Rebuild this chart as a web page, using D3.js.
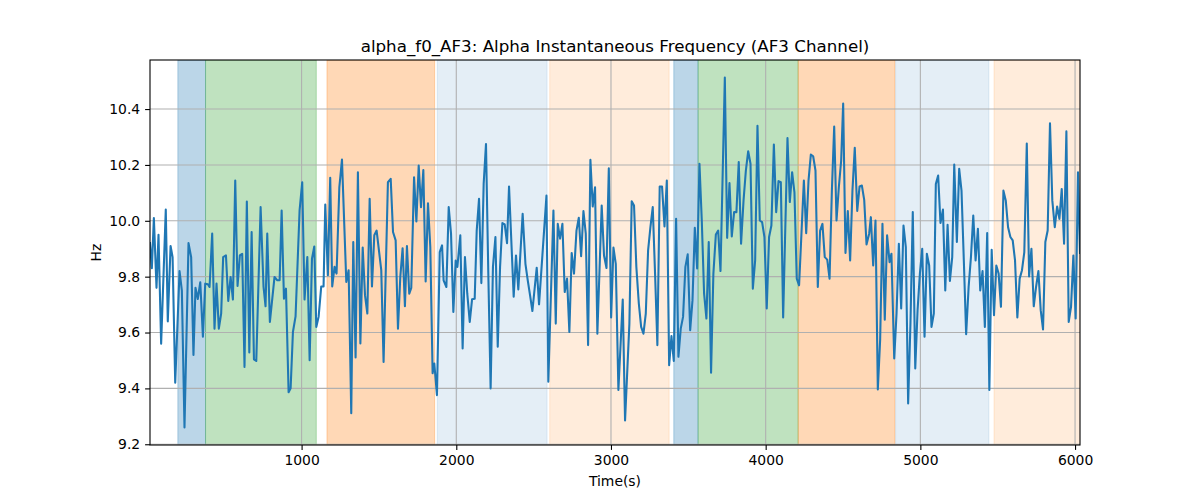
<!DOCTYPE html>
<html><head><meta charset="utf-8">
<script src="https://cdn.jsdelivr.net/npm/d3@7"></script>
<style>body{margin:0;background:#fff}svg{display:block}text{font-family:"DejaVu Sans",sans-serif}</style>
</head><body>
<svg id="chart" width="1200" height="500"></svg>
<script>
const title = "alpha_f0_AF3: Alpha Instantaneous Frequency (AF3 Channel)";
const xLabel = "Time(s)";
const yLabel = "Hz";
const xTicks = [1000, 2000, 3000, 4000, 5000, 6000];
const yTicks = [9.2, 9.4, 9.6, 9.8, 10.0, 10.2, 10.4];

// segments: start time, end time, state
const segStart = [200, 379, 1164, 1877, 2604, 3406, 3563, 4210, 4840, 5476];
const segEnd   = [379, 1095, 1860, 2587, 3376, 3563, 4210, 4835, 5443, 6040];
const segState = ["S1", "S2", "S3", "S4", "S5", "S1", "S2", "S3", "S4", "S5"];

// [time (s), frequency (Hz)]
const samples = [
[20,9.92],[32,9.83],[45,10.01],[62,9.76],[75,9.95],[92,9.56],[122,10.04],[135,9.64],[153,9.91],[166,9.87],[183,9.42],[211,9.82],[226,9.75],[243,9.26],[269,9.92],[286,9.87],[301,9.52],[314,9.76],[329,9.72],[345,9.78],[362,9.585],[377,9.775],[394,9.773],[405,9.763],[422,9.954],[437,9.614],[450,9.775],[465,9.614],[480,9.668],[493,9.87],[511,9.876],[526,9.713],[541,9.799],[556,9.718],[571,10.144],[586,9.767],[601,9.876],[616,9.882],[631,9.477],[646,10.069],[662,9.529],[677,9.96],[692,9.504],[707,9.498],[735,10.049],[754,9.763],[767,9.694],
[778,9.954],[795,9.638],[825,9.799],[843,9.787],[858,9.787],[871,10.037],[886,9.721],[899,9.757],[916,9.386],[929,9.4],[944,9.602],[961,9.658],[987,10.037],[1004,10.138],[1019,9.718],[1037,9.87],[1052,9.501],[1067,9.864],[1082,9.908],[1095,9.62],[1110,9.656],[1127,9.765],[1142,9.765],[1153,10.058],[1170,9.805],[1185,10.154],[1198,9.765],[1213,9.835],[1226,9.811],[1244,10.12],[1261,10.219],[1289,9.781],[1304,9.823],[1321,9.311],[1334,9.924],[1349,9.511],[1364,10.174],[1380,9.561],[1395,9.904],[1410,9.733],[1425,9.668],[1440,10.079],[1455,9.765],[1470,9.948],[1485,9.965],[1500,9.894],[1515,9.823],[1530,9.495],
[1558,10.138],[1576,10.15],[1591,9.96],[1608,9.93],[1623,9.614],[1638,9.799],[1653,9.902],[1668,9.694],[1681,9.91],[1696,9.739],[1709,9.76],[1727,10.156],[1742,9.998],[1757,10.198],[1772,10.049],[1787,10.182],[1802,9.783],[1817,10.063],[1832,9.906],[1847,9.454],[1858,9.489],[1875,9.376],[1893,9.888],[1908,9.912],[1918,9.787],[1936,9.763],[1951,10.049],[1966,9.954],[1981,9.674],[1996,9.858],[2007,9.835],[2026,9.948],[2041,9.543],[2056,9.87],[2071,9.739],[2087,9.638],[2102,9.719],[2119,9.721],[2132,9.965],[2147,10.079],[2162,9.777],[2177,10.132],[2192,10.275],[2207,9.811],[2222,9.4],[2237,9.835],[2253,9.942],[2268,9.549],[2283,9.835],[2298,9.992],[2313,9.987],[2328,9.92],
[2341,10.123],[2371,9.728],[2386,9.876],[2401,9.754],[2429,10.025],[2447,9.846],[2462,9.787],[2477,9.733],[2492,9.677],[2520,9.832],[2535,9.701],[2583,10.09],[2595,9.424],[2628,10.037],[2643,9.632],[2656,9.989],[2671,9.936],[2686,9.989],[2701,9.745],[2716,9.793],[2731,9.602],[2746,9.885],[2761,9.811],[2777,9.965],[2792,10.011],[2807,9.873],[2822,10.035],[2837,9.954],[2852,9.555],[2867,10.218],[2882,10.051],[2897,10.12],[2912,9.596],[2940,10.055],[2955,9.876],[2971,9.831],[2986,10.188],[3001,9.654],[3016,9.904],[3031,9.846],[3048,9.394],[3076,9.718],
[3091,9.285],[3119,9.632],[3134,10.07],[3149,10.055],[3164,9.835],[3180,9.704],[3195,9.62],[3210,9.596],[3225,9.668],[3240,9.894],[3255,9.977],[3270,10.049],[3285,9.811],[3300,9.555],[3315,10.123],[3330,10.123],[3346,9.98],[3361,10.144],[3376,9.483],[3391,9.587],[3406,9.498],[3421,10.007],[3436,9.513],[3451,9.614],[3466,9.656],[3481,9.835],[3496,9.88],[3512,9.608],[3527,9.716],[3542,9.975],[3557,9.829],[3572,10.204],[3587,10.001],[3602,9.739],[3617,9.65],[3632,9.924],[3647,9.456],[3662,9.811],[3678,9.951],[3693,9.965],[3708,9.82],[3736,10.513],[3751,9.939],[3766,10.135],[3781,9.944],[3796,10.031],[3811,10.031],[3826,10.21],[3841,9.918],[3857,10.073],[3872,10.18],[3887,10.249],
[3902,10.204],[3917,9.757],[3932,9.858],[3947,10.34],[3962,10.001],[3977,9.995],[3992,9.942],[4007,9.686],[4022,9.942],[4037,9.983],[4053,10.273],[4068,10.031],[4083,10.142],[4098,10.138],[4113,9.654],[4141,10.296],[4156,10.067],[4171,10.174],[4186,10.102],[4201,9.793],[4216,9.769],[4247,10.144],[4262,9.956],[4277,10.144],[4292,10.237],[4307,10.231],[4322,10.18],[4337,9.763],[4352,9.965],[4367,9.989],[4382,9.87],[4398,9.861],[4413,9.793],[4428,10.108],[4443,10.337],[4458,10.001],[4473,10.12],[4488,10.215],[4501,10.42],[4516,9.885],[4531,10.035],[4546,9.858],[4561,10.108],[4576,10.261],[4592,10.035],[4607,10.123],[4622,10.126],[4637,10.075],[4652,9.915],
[4669,9.954],[4680,10.013],[4695,9.84],[4710,10.001],[4725,9.396],[4740,9.573],[4755,9.989],[4770,9.646],[4785,9.948],[4801,9.852],[4813,9.882],[4831,9.507],[4846,9.668],[4861,9.918],[4876,9.686],[4891,9.983],[4906,9.906],[4921,9.346],[4936,9.632],[4951,10.031],[4967,9.471],[4982,9.68],[4997,9.811],[5012,9.9],[5027,9.585],[5042,9.882],[5057,9.84],[5072,9.62],[5087,9.668],[5100,10.132],[5115,10.162],[5130,9.992],[5146,10.04],[5161,9.751],[5176,9.986],[5191,9.785],[5206,9.87],[5219,10.201],[5236,9.924],[5251,10.186],[5266,10.108],[5281,9.858],[5296,9.594],[5312,9.763],[5327,9.87],[5342,10.019],[5357,9.858],[5372,9.971],[5387,9.751],[5402,9.82],[5417,9.62],[5432,9.956],[5446,9.394],
[5461,9.896],[5476,9.662],[5491,9.84],[5506,9.811],[5521,9.692],[5537,10.108],[5552,10.073],[5567,9.977],[5582,9.942],[5597,9.93],[5612,9.858],[5627,9.654],[5642,9.793],[5657,9.823],[5672,9.888],[5688,10.277],[5703,9.801],[5718,9.9],[5733,9.694],[5748,9.763],[5763,9.82],[5778,9.68],[5793,9.611],[5808,9.924],[5823,9.965],[5838,10.349],[5853,10.073],[5869,9.977],[5884,10.051],[5899,10.007],[5914,10.114],[5929,9.918],[5944,10.32],[5959,9.638],[5974,9.692],[5989,9.876],[6004,9.65],[6019,10.174],[6032,9.885]
];

const W = 1200, H = 500;
const m = {left:150, right:1080, top:60, bottom:445};
const svg = d3.select("#chart");

const x = d3.scaleLinear().domain(d3.extent(samples, d => d[0])).range([m.left, m.right]);
const yMin = d3.min(samples, d => d[1]), yMax = d3.max(samples, d => d[1]);
const pad = (yMax - yMin) * 0.05;
const y = d3.scaleLinear().domain([yMin - pad, yMax + pad]).range([m.bottom, m.top]);

const stateColor = d3.scaleOrdinal().domain(["S1","S2","S3","S4","S5"])
  .range(["#1f77b4","#2ca02c","#ff7f0e","#1f77b4","#ff7f0e"]);
const stateAlpha = d3.scaleOrdinal().domain(["S1","S2","S3","S4","S5"])
  .range([0.3, 0.3, 0.3, 0.12, 0.15]);

svg.append("defs").append("clipPath").attr("id","clip")
  .append("rect").attr("x", m.left).attr("y", m.top)
  .attr("width", m.right - m.left).attr("height", m.bottom - m.top);

const plot = svg.append("g").attr("clip-path","url(#clip)");

// spans
plot.append("g").selectAll("rect").data(segStart.map((s,i)=>({s, e:segEnd[i], st:segState[i]})))
  .join("rect")
  .attr("x", d => x(d.s)).attr("width", d => x(d.e) - x(d.s))
  .attr("y", m.top).attr("height", m.bottom - m.top)
  .attr("fill", d => stateColor(d.st)).attr("fill-opacity", d => stateAlpha(d.st))
  .attr("stroke", d => stateColor(d.st)).attr("stroke-opacity", d => stateAlpha(d.st))
  .attr("stroke-width", 1);

// grid
const grid = plot.append("g").attr("stroke","#b0b0b0").attr("stroke-width",1.1);
grid.selectAll(".gx").data(xTicks).join("line")
  .attr("x1", d => x(d)).attr("x2", d => x(d)).attr("y1", m.top).attr("y2", m.bottom);
grid.selectAll(".gy").data(yTicks).join("line")
  .attr("y1", d => y(d)).attr("y2", d => y(d)).attr("x1", m.left).attr("x2", m.right);

// line
plot.append("path").datum(samples)
  .attr("fill","none").attr("stroke","#1f77b4").attr("stroke-width",2.08)
  .attr("stroke-linejoin","round").attr("stroke-linecap","square")
  .attr("d", d3.line().x(d => x(d[0])).y(d => y(d[1])));

// axes
const fs = "13.9px";
const xAxis = svg.append("g").attr("transform", `translate(0,${m.bottom})`)
  .call(d3.axisBottom(x).tickValues(xTicks).tickFormat(d3.format("d")).tickSizeOuter(0).tickSize(4.9).tickPadding(4.9));
const yAxis = svg.append("g").attr("transform", `translate(${m.left},0)`)
  .call(d3.axisLeft(y).tickValues(yTicks).tickFormat(d3.format(".1f")).tickSizeOuter(0).tickSize(4.9).tickPadding(4.9));
[xAxis, yAxis].forEach(a => {
  a.select(".domain").remove();
  a.selectAll(".tick line").attr("stroke","#000").attr("stroke-width",1.1);
  a.selectAll(".tick text").attr("fill","#000").style("font-size", fs).style("font-family","DejaVu Sans");
});

// spines
svg.append("rect").attr("x", m.left).attr("y", m.top)
  .attr("width", m.right - m.left).attr("height", m.bottom - m.top)
  .attr("fill","none").attr("stroke","#000").attr("stroke-width",1.1);

// labels
svg.append("text").attr("x", (m.left + m.right)/2).attr("y", 52)
  .attr("text-anchor","middle").style("font-size","16.7px").text(title);
svg.append("text").attr("x", (m.left + m.right)/2).attr("y", 486)
  .attr("text-anchor","middle").style("font-size", fs).text(xLabel);
svg.append("text").attr("transform", `translate(101,${(m.top + m.bottom)/2}) rotate(-90)`)
  .attr("text-anchor","middle").style("font-size", fs).text(yLabel);
</script>
</body></html>
